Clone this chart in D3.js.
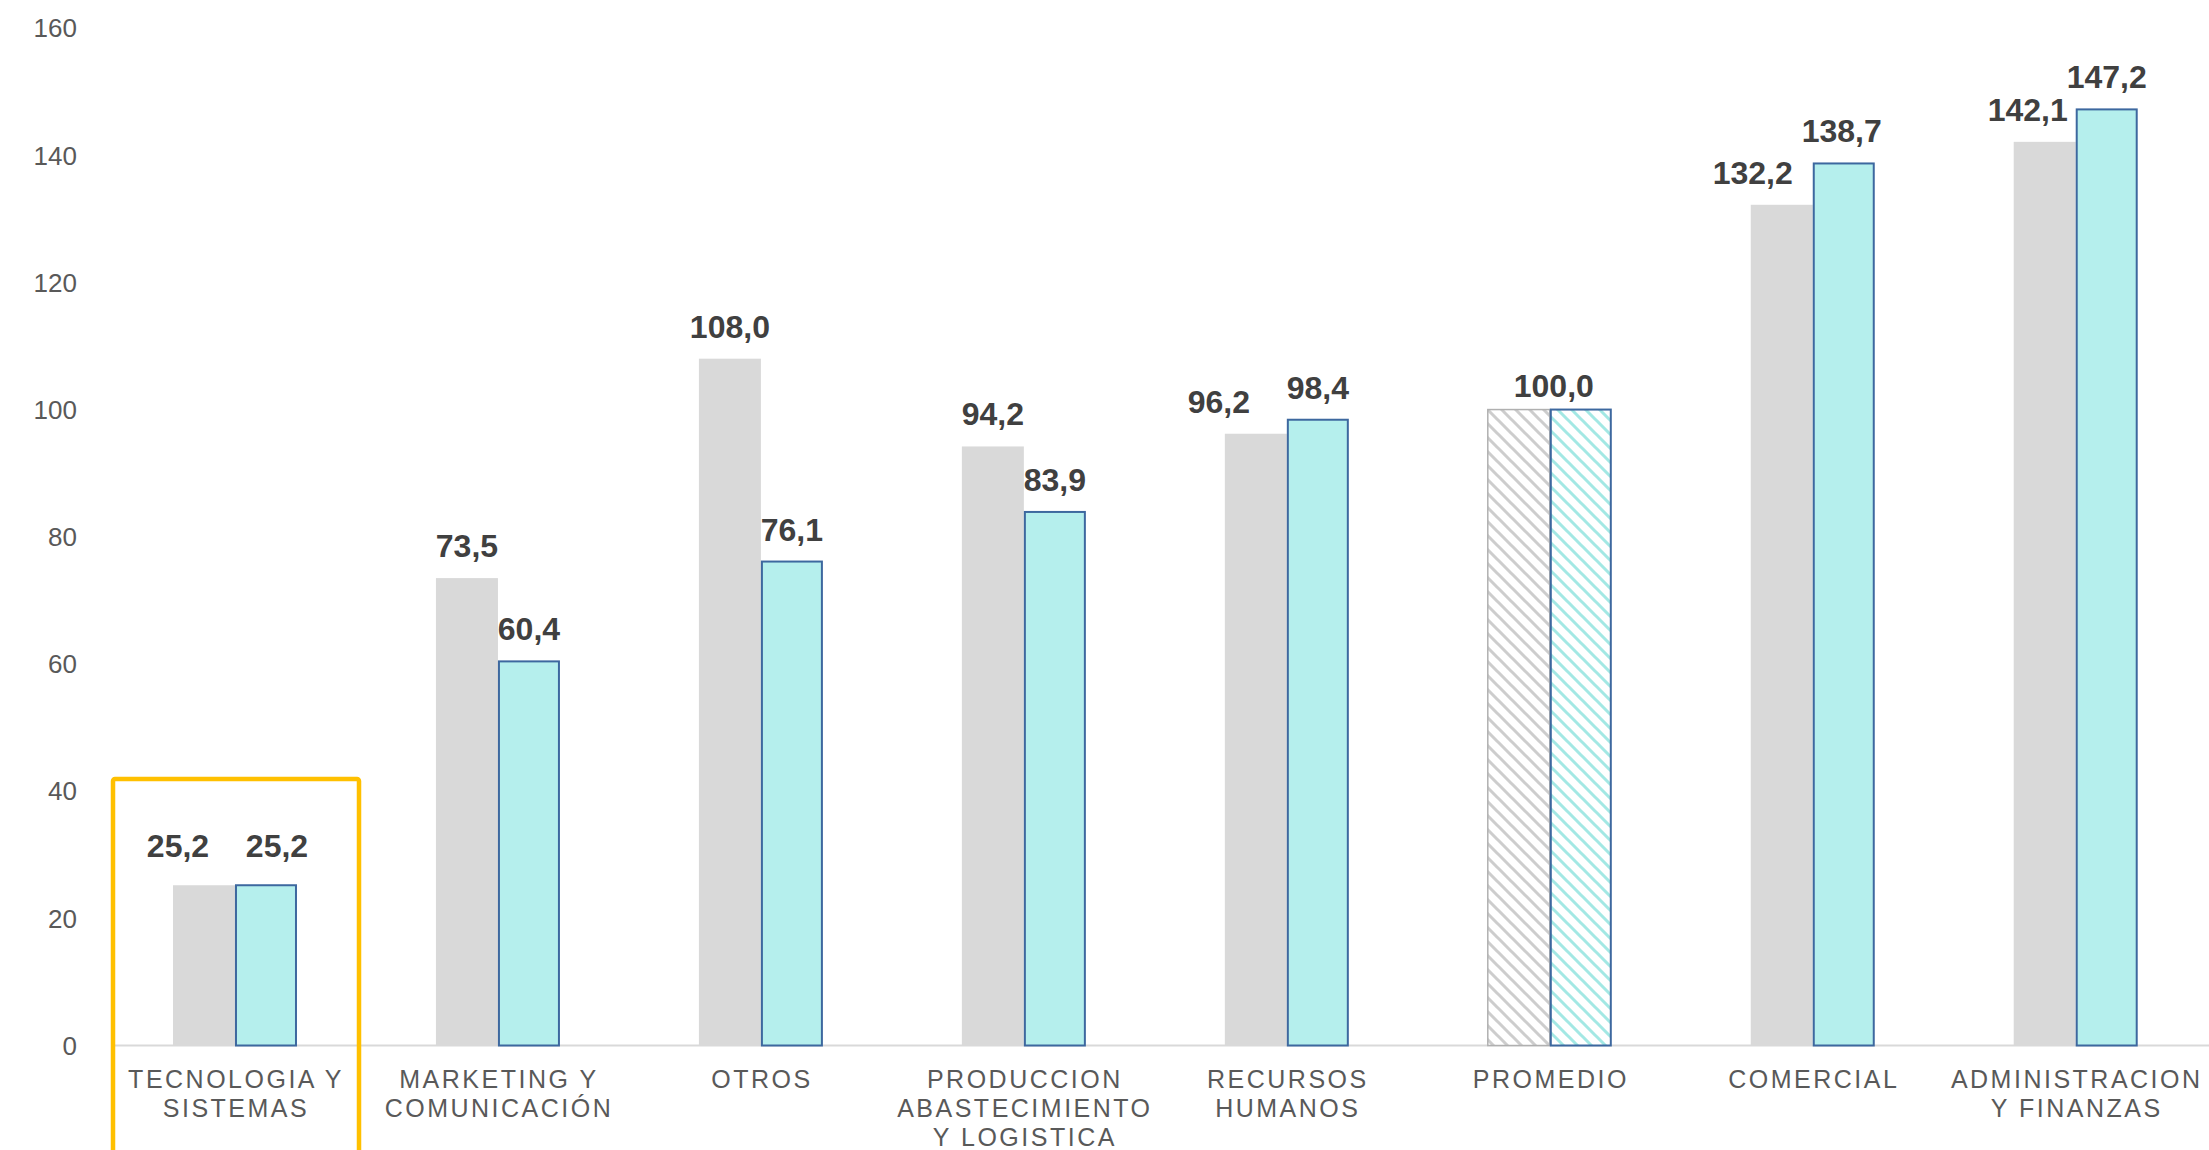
<!DOCTYPE html>
<html>
<head>
<meta charset="utf-8">
<script src="https://cdn.jsdelivr.net/npm/d3@7"></script>
<style>
  html, body { margin: 0; padding: 0; background: #ffffff; }
  svg { display: block; }
</style>
</head>
<body>
<svg id="chart" width="2209" height="1150"></svg>
<script>
// ---------------- DATA ----------------
const categories = [
  ["TECNOLOGIA Y", "SISTEMAS"],
  ["MARKETING Y", "COMUNICACIÓN"],
  ["OTROS"],
  ["PRODUCCION", "ABASTECIMIENTO", "Y LOGISTICA"],
  ["RECURSOS", "HUMANOS"],
  ["PROMEDIO"],
  ["COMERCIAL"],
  ["ADMINISTRACION", "Y FINANZAS"]
];
const seriesGray = [25.2, 73.5, 108.0, 94.2, 96.2, 100.0, 132.2, 142.1];
const seriesTeal = [25.2, 60.4, 76.1, 83.9, 98.4, 100.0, 138.7, 147.2];
const yTicks = [0, 20, 40, 60, 80, 100, 120, 140, 160];
const averageIndex = 5;       // "PROMEDIO" group (hatched, single label)
const highlightIndex = 0;     // group framed in yellow

// ---------------- LAYOUT (not data) ----------------
const labelNudgeGray = [-26, 0, 0, 0, -37, 0, -29, -17];
const labelNudgeTeal = [11, 0, 0, 0, 0, 0, -2, 0];
const labelLift = [7, 0, 0, 0, 0, 0, 0, 0];
const barW = 62;

const svg = d3.select("#chart");

const keys = categories.map((c, i) => i);
const x = d3.scaleBand().domain(keys).range([103.5, 2207.2]).padding(0);
const y = d3.scaleLinear().domain([0, 160]).range([1045.5, 28]);

const fmt = v => d3.format(".1f")(v).replace(".", ",");

// patterns
const defs = svg.append("defs");
function hatch(id, color) {
  const s = 14;
  const p = defs.append("pattern")
    .attr("id", id).attr("patternUnits", "userSpaceOnUse")
    .attr("width", s).attr("height", s);
  p.append("rect").attr("width", s).attr("height", s).attr("fill", "#ffffff");
  p.append("path")
    .attr("d", `M-4,-4 L${s + 4},${s + 4} M-4,${s - 4} L4,${s + 4} M${s - 4},-4 L${s + 4},4`)
    .attr("stroke", color).attr("stroke-width", 3);
}
hatch("hatchGray", "#cdcdcd");
hatch("hatchTeal", "#a3e8e4");

// y tick labels
svg.append("g").selectAll("text").data(yTicks).join("text")
  .attr("x", 77).attr("y", d => y(d)).attr("dy", "0.36em")
  .attr("text-anchor", "end")
  .attr("font-family", "'Liberation Sans', Arial, sans-serif")
  .attr("font-size", 26).attr("fill", "#595959")
  .text(d => d);

// baseline
svg.append("line")
  .attr("x1", 113).attr("x2", 2209)
  .attr("y1", y(0)).attr("y2", y(0))
  .attr("stroke", "#d9d9d9").attr("stroke-width", 2);

const cx = i => x(i) + x.bandwidth() / 2;

// gray bars
svg.append("g").selectAll("rect").data(seriesGray).join("rect")
  .attr("x", (d, i) => cx(i) - barW)
  .attr("y", d => y(d))
  .attr("width", barW)
  .attr("height", d => y(0) - y(d))
  .attr("fill", (d, i) => i === averageIndex ? "url(#hatchGray)" : "#d9d9d9")
  .attr("stroke", (d, i) => i === averageIndex ? "#b0b0b0" : "none")
  .attr("stroke-width", 1.5);

// teal bars
svg.append("g").selectAll("rect").data(seriesTeal).join("rect")
  .attr("x", (d, i) => cx(i) + 1)
  .attr("y", d => y(d))
  .attr("width", barW - 2)
  .attr("height", d => y(0) - y(d))
  .attr("fill", (d, i) => i === averageIndex ? "url(#hatchTeal)" : "#b5efed")
  .attr("stroke", "#3d689f")
  .attr("stroke-width", 2);

// value labels
const lblFont = "'Liberation Sans', Arial, sans-serif";
const labels = svg.append("g")
  .attr("font-family", lblFont).attr("font-weight", "bold")
  .attr("font-size", 32).attr("fill", "#404040").attr("text-anchor", "middle");

seriesGray.forEach((v, i) => {
  if (i === averageIndex) {
    labels.append("text")
      .attr("x", cx(i) + 4).attr("y", y(Math.max(v, seriesTeal[i])) - 13)
      .text(fmt(v));
    return;
  }
  labels.append("text")
    .attr("x", cx(i) - barW / 2 + labelNudgeGray[i])
    .attr("y", y(v) - 21 - labelLift[i])
    .text(fmt(v));
  labels.append("text")
    .attr("x", cx(i) + barW / 2 + labelNudgeTeal[i])
    .attr("y", y(seriesTeal[i]) - 21 - labelLift[i])
    .text(fmt(seriesTeal[i]));
});

// category labels
const cat = svg.append("g")
  .attr("font-family", lblFont).attr("font-size", 25)
  .attr("fill", "#595959").attr("text-anchor", "middle")
  .attr("letter-spacing", "2.5px");
categories.forEach((lines, i) => {
  lines.forEach((t, j) => {
    cat.append("text")
      .attr("x", cx(i) + 1).attr("y", 1088 + j * 29)
      .text(t);
  });
});

// highlight frame
svg.append("rect")
  .attr("x", x(highlightIndex) + 9.5)
  .attr("y", 779)
  .attr("width", 246)
  .attr("height", 400)
  .attr("rx", 2)
  .attr("fill", "none")
  .attr("stroke", "#ffc000")
  .attr("stroke-width", 4.5);
</script>
</body>
</html>
